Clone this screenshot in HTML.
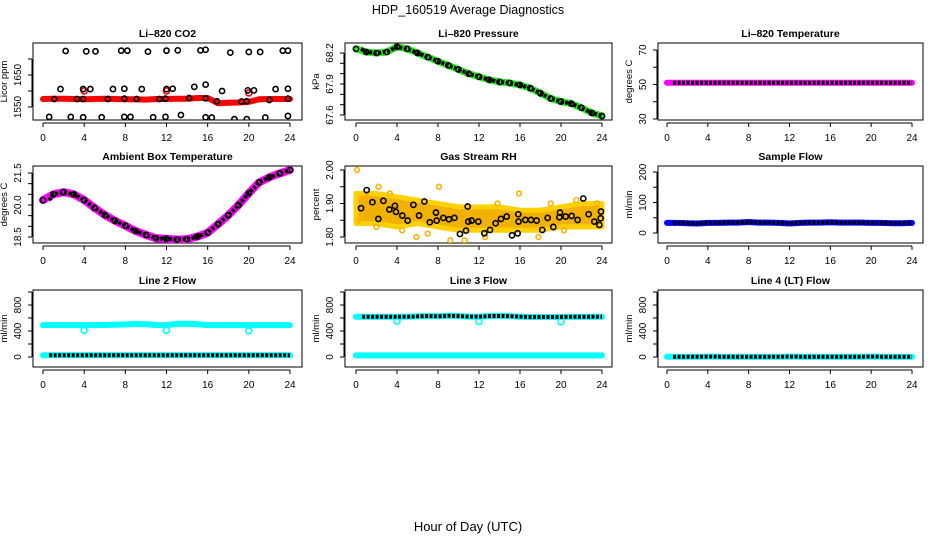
<!DOCTYPE html>
<html><head><meta charset="utf-8"><style>
html,body{margin:0;padding:0;background:#fff;}
svg{display:block;font-family:"Liberation Sans",Arial,sans-serif;}
</style></head><body>
<svg id="fig" width="936" height="540" viewBox="0 0 936 540" xmlns="http://www.w3.org/2000/svg">
<text x="468" y="14" text-anchor="middle" font-size="12.5">HDP_160519  Average Diagnostics</text>
<text x="468" y="531" text-anchor="middle" font-size="13">Hour of Day (UTC)</text>
</svg>
<script>
// ---------- data ----------
const hours = [0,1,2,3,4,5,6,7,8,9,10,11,12,13,14,15,16,17,18,19,20,21,22,23,24];
const xTicks = [0,4,8,12,16,20,24];

const co2Red = [1575,1576,1576,1575,1574,1575,1576,1575,1574,1574,1573,1575,1575,1576,1576,1578,1578,1562,1563,1564,1566,1574,1575,1575,1575];
const co2RedOutX = [4.0,12.0,20.0];
const co2RedOutY = [1600,1600,1594];
const co2BlkX = [2.2,4.2,5.1,7.6,8.2,10.2,12.0,13.1,15.3,15.8,18.2,20.0,21.1,23.3,23.8,
  1.7,3.9,4.6,6.8,7.9,9.6,12.0,12.6,14.7,15.8,17.4,19.9,20.5,22.6,23.8,
  1.1,3.3,3.9,6.3,7.9,9.1,11.3,11.9,14.2,15.8,16.9,19.3,19.8,22.0,23.8,
  0.6,2.7,3.9,5.7,7.9,8.5,10.7,11.9,13.4,15.8,16.4,18.6,19.8,21.6,23.8];
const co2BlkY = [1725,1724,1724,1726,1726,1723,1726,1727,1727,1729,1720,1722,1722,1726,1726,
  1606,1606,1606,1606,1607,1606,1606,1607,1613,1620,1600,1602,1602,1606,1607,
  1575,1575,1575,1575,1576,1575,1575,1576,1578,1577,1568,1567,1568,1572,1576,
  1519,1519,1518,1518,1519,1519,1518,1519,1525,1518,1517,1512,1512,1517,1522];

const pressure = [68.24,68.21,68.20,68.21,68.26,68.24,68.20,68.16,68.12,68.08,68.04,68.00,67.97,67.94,67.92,67.91,67.89,67.86,67.81,67.76,67.73,67.71,67.67,67.62,67.59];
const liTemp = [51,51,51,51,51,51,51,51,51,51,51,51,51,51,51,51,51,51,51,51,51,51,51,51,51];
const ambient = [20.23,20.5,20.6,20.5,20.23,19.87,19.53,19.26,19.03,18.78,18.6,18.44,18.42,18.38,18.4,18.52,18.7,19.1,19.52,20.0,20.55,21.06,21.3,21.48,21.64];

const rhBandHours = [0,2,4,6,8,10,12,14,16,18,20,22,24];
const rhUpper = [1.93,1.93,1.92,1.91,1.90,1.89,1.89,1.89,1.88,1.88,1.89,1.90,1.90];
const rhLower = [1.84,1.84,1.83,1.84,1.83,1.82,1.82,1.82,1.82,1.82,1.83,1.83,1.83];
const rhYelX = [0.1,2.2,8.1,15.9,5.9,10.6,9.2,17.8,0.3,2.0,4.5,7.0,12.6,20.3,1.0,3.3,13.8,19.0,21.5,23.5];
const rhYelY = [2.00,1.95,1.95,1.93,1.80,1.79,1.79,1.80,1.85,1.83,1.82,1.81,1.80,1.82,1.92,1.93,1.90,1.90,1.91,1.90];
const rhBlkX = [0.49,1.04,1.6,2.18,2.67,3.25,3.8,3.9,4.52,5.04,5.6,6.15,6.67,7.2,7.8,7.87,8.52,9.07,9.6,10.14,10.73,10.9,10.95,11.28,11.93,12.52,13.07,13.62,14.14,14.7,15.22,15.77,15.83,15.86,16.52,17.07,17.62,18.17,18.7,19.25,19.84,19.9,20.45,21.04,21.62,22.17,22.7,23.25,23.74,23.87,23.9];
const rhBlkY = [1.886,1.94,1.904,1.854,1.908,1.882,1.893,1.875,1.864,1.849,1.896,1.864,1.906,1.844,1.873,1.849,1.857,1.853,1.857,1.809,1.819,1.891,1.846,1.849,1.846,1.811,1.821,1.841,1.854,1.861,1.805,1.811,1.868,1.846,1.851,1.851,1.849,1.821,1.857,1.830,1.859,1.873,1.861,1.863,1.851,1.915,1.868,1.846,1.836,1.856,1.876];

const sampleFlow = [33,33,32,31,33,33,34,34,36,34,34,33,31,33,34,34,35,34,34,34,33,33,32,32,33];
const line2Hi = [490,492,490,492,488,492,492,496,500,508,505,492,490,510,512,505,492,490,490,492,488,490,492,490,490];
const line2Lo = [28,28,28,28,28,28,28,28,28,28,28,28,28,28,28,28,28,28,28,28,28,28,28,28,28];
const line2DipX = [4,12,20];
const line2DipY = [410,410,405];
const line3Hi = [620,620,620,620,620,620,625,630,625,635,630,622,620,630,632,628,620,615,615,615,615,620,620,620,620];
const line3Lo = [25,25,25,25,25,25,25,25,25,25,25,25,25,25,25,25,25,25,25,25,25,25,25,25,25];
const line3DipX = [4,12,20];
const line3DipY = [550,545,540];
const line4 = [5,5,5,5,6,5,5,5,5,5,5,5,6,5,5,5,5,5,5,5,6,5,5,5,5];

// ---------- layout ----------
const NS = "http://www.w3.org/2000/svg";
const fig = document.getElementById('fig');
const COLS = {L:[33,302,43,290], M:[345,612,356,602], R:[658,923,667,912]};
const ROWS = [[43,120],[166,243],[290,367]];

function mk(tag, attrs, parent){
  const e = document.createElementNS(NS, tag);
  for (const k in attrs) e.setAttribute(k, attrs[k]);
  (parent||fig).appendChild(e);
  return e;
}

function panel(name, title, col, row, ylab, v1, y1, v2, y2, yTicks, yLabels){
  const [bl, br, x0, x24] = COLS[col];
  const [bt, bb] = ROWS[row];
  const g = mk('g', {});
  
  
  const xs = h => x0 + (h/24)*(x24-x0);
  const ys = v => y1 + (v - v1)*(y2 - y1)/(v2 - v1);
  const t = mk('text', {x:(bl+br)/2, y:bt-6, 'text-anchor':'middle', 'font-size':'10.5', 'font-weight':'bold'}, g);
  t.textContent = title;
  
  
  const box = mk('rect', {x:bl, y:bt, width:br-bl, height:bb-bt, fill:'none', stroke:'#000', 'stroke-width':1}, g);
  
  
  // x axis
  const xa = mk('g', {}, g);
  
  
  mk('line', {x1:xs(0), x2:xs(24), y1:bb+3, y2:bb+3, stroke:'#000'}, xa);
  xTicks.forEach(h => {
    mk('line', {x1:xs(h), x2:xs(h), y1:bb+3, y2:bb+7, stroke:'#000'}, xa);
    const l = mk('text', {x:xs(h), y:bb+21, 'text-anchor':'middle', 'font-size':'10'}, xa);
    l.textContent = h;
  });
  // y axis
  const ya = mk('g', {}, g);
  
  
  mk('line', {x1:bl-1, x2:bl-1, y1:ys(yTicks[0]), y2:ys(yTicks[yTicks.length-1]), stroke:'#000'}, ya);
  yTicks.forEach(v => mk('line', {x1:bl-5, x2:bl-1, y1:ys(v), y2:ys(v), stroke:'#000'}, ya));
  yLabels.forEach(s => {
    const yy = ys(parseFloat(s));
    const l = mk('text', {x:bl-12, y:yy, 'text-anchor':'middle', 'font-size':'10', transform:`rotate(-90 ${bl-12} ${yy})`}, ya);
    l.textContent = s;
  });
  const yt = mk('text', {x:bl-26, y:(bt+bb)/2, 'text-anchor':'middle', 'font-size':'9.5', transform:`rotate(-90 ${bl-26} ${(bt+bb)/2})`}, g);
  yt.textContent = ylab;
  
  
  const clip = 'clip-' + name;
  const cp = mk('clipPath', {id:clip}, g);
  mk('rect', {x:bl, y:bt, width:br-bl, height:bb-bt}, cp);
  const pg = mk('g', {'clip-path':`url(#${clip})`}, g);
  return {xs, ys, g:pg};
}

function band(P, xArr, yArr, color, w, name){
  const pts = xArr.map((h,i) => P.xs(h).toFixed(1) + ',' + P.ys(yArr[i]).toFixed(1)).join(' ');
  const e = mk('polyline', {points:pts, fill:'none', stroke:color, 'stroke-width':w, 'stroke-linejoin':'round', 'stroke-linecap':'round'}, P.g);
  
  
  return e;
}
function chain(P, xArr, yArr, name){
  const pts = xArr.map((h,i) => P.xs(h).toFixed(1) + ',' + P.ys(yArr[i]).toFixed(1)).join(' ');
  const e = mk('polyline', {points:pts, fill:'none', stroke:'#000', 'stroke-width':4, 'stroke-dasharray':'3 1.5', 'stroke-linejoin':'round', transform:'translate(0,0)'}, P.g);
  
  
  return e;
}
function circles(P, xArr, yArr, color, name, r){
  xArr.forEach((h,i) => {
    const c = mk('circle', {cx:P.xs(h), cy:P.ys(yArr[i]), r:r||2.6, fill:'none', stroke:color, 'stroke-width':1.6}, P.g);
    
    
  });
}
const blkHours = hours.slice(1).map(h => h - 0.5).concat([23.8]);
function pick(arr){ return arr.slice(1).map((v,i) => (v + arr[i]) / 2).concat([arr[arr.length-1]]); }

// CO2
let P = panel('co2', 'Li\u2013820 CO2', 'L', 0, 'Licor ppm', 1650, 75, 1550, 107, [1550,1600,1650,1700], ['1550','1650']);
band(P, hours, co2Red, '#ff0000', 6, 'co2-red-series');
circles(P, co2RedOutX, co2RedOutY, '#ff0000', 'co2-red-outlier', 3);
circles(P, co2BlkX, co2BlkY, '#000', 'co2-black-point');

// Pressure
P = panel('pressure', 'Li\u2013820 Pressure', 'M', 0, 'kPa', 68.2, 53, 67.6, 115, [67.6,67.7,67.8,67.9,68.0,68.1,68.2], ['67.6','67.9','68.2']);
band(P, hours, pressure, '#22ee22', 7, 'pressure-green-series');
chain(P, hours.map(h => Math.max(h,0.5)), pressure, 'pressure-black-series');
circles(P, hours, pressure, '#000', 'pressure-point');

// Li temperature
P = panel('li-temp', 'Li\u2013820 Temperature', 'R', 0, 'degrees C', 70, 50, 30, 119, [30,40,50,60,70], ['30','50','70']);
band(P, hours, liTemp, '#ff00ff', 6, 'li-temp-magenta-series');
chain(P, hours.map(h => Math.max(h,0.6)), liTemp, 'li-temp-black-series');

// Ambient
P = panel('ambient', 'Ambient Box Temperature', 'L', 1, 'degrees C', 21.5, 173, 18.5, 237, [18.5,19.0,19.5,20.0,20.5,21.0,21.5], ['18.5','20.0','21.5']);
band(P, hours, ambient, '#ff00ff', 8, 'ambient-magenta-series');
chain(P, hours.map(h => Math.max(h,0.6)), ambient, 'ambient-black-series');
circles(P, hours, ambient, '#000', 'ambient-point');

// RH
P = panel('rh', 'Gas Stream RH', 'M', 1, 'percent', 2.0, 170, 1.8, 237, [1.80,1.85,1.90,1.95,2.00], ['1.80','1.90','2.00']);
{
  const up = rhBandHours.map((h,i) => P.xs(h).toFixed(1) + ',' + P.ys(rhUpper[i]).toFixed(1));
  const lo = rhBandHours.map((h,i) => P.xs(h).toFixed(1) + ',' + P.ys(rhLower[i]).toFixed(1)).reverse();
  const poly = mk('polygon', {points:up.concat(lo).join(' '), fill:'#f2b000', stroke:'#ffd000', 'stroke-width':5, 'stroke-linejoin':'round'}, P.g);
  
  
}
circles(P, rhYelX, rhYelY, '#ffb000', 'rh-yellow-point', 2.4);
circles(P, rhBlkX, rhBlkY, '#000', 'rh-black-point');

// Sample flow
P = panel('sample-flow', 'Sample Flow', 'R', 1, 'ml/min', 200, 172, 0, 233, [0,50,100,150,200], ['0','100','200']);
band(P, hours, sampleFlow, '#0000ff', 6, 'sample-flow-blue-series');
chain(P, hours.map(h => Math.max(h,0.6)), sampleFlow, 'sample-flow-black-series');

// Line 2
P = panel('line2', 'Line 2 Flow', 'L', 2, 'ml/min', 800, 305, 0, 357, [0,200,400,600,800,1000], ['0','400','800']);
band(P, hours, line2Hi, '#00ffff', 6, 'line2-cyan-high-series');
circles(P, line2DipX, line2DipY, '#00ffff', 'line2-cyan-dip', 3);
band(P, hours, line2Lo, '#00ffff', 6, 'line2-cyan-low-series');
chain(P, hours.map(h => Math.max(h,0.6)), line2Lo, 'line2-black-series');

// Line 3
P = panel('line3', 'Line 3 Flow', 'M', 2, 'ml/min', 800, 305, 0, 357, [0,200,400,600,800,1000], ['0','400','800']);
band(P, hours, line3Hi, '#00ffff', 6, 'line3-cyan-high-series');
circles(P, line3DipX, line3DipY, '#00ffff', 'line3-cyan-dip', 3);
chain(P, hours.map(h => Math.max(h,0.6)), line3Hi, 'line3-black-series');
band(P, hours, line3Lo, '#00ffff', 6, 'line3-cyan-low-series');

// Line 4
P = panel('line4', 'Line 4 (LT) Flow', 'R', 2, 'ml/min', 800, 305, 0, 357, [0,200,400,600,800,1000], ['0','400','800']);
band(P, hours, line4, '#00ffff', 6, 'line4-cyan-series');
chain(P, hours.map(h => Math.max(h,0.6)), line4, 'line4-black-series');
</script>
</body></html>
